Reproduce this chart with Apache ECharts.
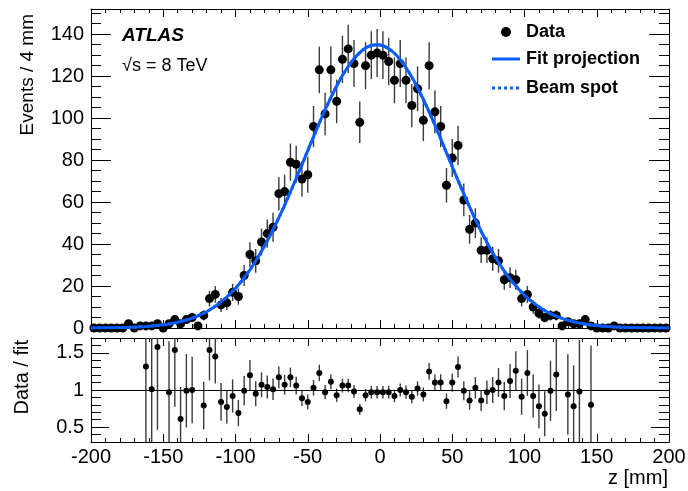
<!DOCTYPE html>
<html><head><meta charset="utf-8">
<script src="https://cdn.jsdelivr.net/npm/echarts@6/dist/echarts.min.js"></script>
<style>html,body{margin:0;padding:0;background:#fff}#c{width:688px;height:491px}</style>
</head><body><div id="c"></div>
<script>
// ---- data ----
const zMin = -200, zMax = 200, binWidth = 4; // mm
// Events per 4 mm bin, bins from -200 to 200
const counts = [
  0,0,0,0,0,0,2,0,1,1,
  1,2,0,2,4,2,4,5,1,6,
  14,16,11,12,17,15,25,35,32,41,
  45,48,64,65,79,78,71,73,96,123,
  102,123,108,128,133,126,98,125,130,131,
  130,127,118,126,118,106,114,99,125,103,
  96,68,81,87,61,47,50,37,37,33,
  32,23,24,23,14,16,10,7,5,6,
  6,1,3,2,2,4,1,0,0,0,
  1,0,0,0,0,0,0,0,0,0
];
// fit projection read at bin centres
const fitVals = [
  0.05,0.07,0.10,0.13,0.18,0.24,0.31,0.41,0.55,0.71,
  0.92,1.19,1.52,1.93,2.44,3.06,3.81,4.71,5.80,7.08,
  8.60,10.36,12.42,14.78,17.47,20.52,23.94,27.75,31.94,36.55,
  41.54,46.87,52.58,58.58,64.86,71.32,77.88,84.55,91.13,97.63,
  103.9,109.8,115.3,120.3,124.6,128.3,131.2,133.4,134.6,135.0,
  134.5,133.1,130.9,127.8,124.0,119.6,114.5,108.9,103.0,96.7,
  90.2,83.5,76.9,70.3,63.9,57.7,51.7,46.1,40.8,35.8,
  31.3,27.1,23.4,20.0,17.0,14.4,12.1,10.1,8.35,6.88,
  5.62,4.57,3.68,2.95,2.35,1.86,1.46,1.14,0.89,0.68,
  0.52,0.40,0.30,0.22,0.16,0.12,0.09,0.06,0.04,0.03
];
const fitEdges = [0.04, 0.03]; // fit at z=-200 and z=200
// Data / fit ratio (null = outside the shown range)
const ratio = [
  null,null,null,null,null,null,null,null,null,1.315,
  1.01,1.58,null,0.97,1.54,0.61,0.99,1.00,null,0.79,
  1.54,1.45,0.84,0.77,0.92,0.69,0.99,1.20,0.95,1.07,
  1.04,1.01,1.17,1.07,1.17,1.06,0.89,0.84,1.03,1.23,
  0.97,1.11,0.93,1.06,1.06,0.98,0.74,0.93,0.97,0.97,
  0.97,0.97,0.92,1.00,0.97,0.91,1.02,0.94,1.25,1.10,
  1.10,0.85,1.10,1.31,0.99,0.86,1.03,0.86,0.97,1.00,
  1.10,0.92,1.12,1.26,0.91,1.23,0.92,0.78,0.68,0.99,
  1.21,null,0.94,0.78,0.98,null,0.80,null,null,null,
  null,null,null,null,null,null,null,null,null,null
];
const legendNames = ['Data', 'Fit projection', 'Beam spot'];
const topYMax = 152;
const ratioMin = 0.3, ratioMax = 1.7;
const ratioMajor = [0.5, 1, 1.5];

// ---- build ----
const FONT = 'Liberation Sans, Arial, Helvetica, sans-serif';
const BLUE = '#0a5cff';
const ERR = '#3a3a3a';
const binCenters = counts.map((_, i) => zMin + binWidth / 2 + i * binWidth);

const dataPts = binCenters.map((z, i) => [z, counts[i]]);
const dataErr = binCenters.map((z, i) => [z, counts[i], Math.sqrt(counts[i])]).filter(d => d[1] > 0);
const fitLine = [[zMin, fitEdges[0]]].concat(binCenters.map((z, i) => [z, fitVals[i]]), [[zMax, fitEdges[1]]]);
const ratioPts = [], ratioErr = [];
binCenters.forEach((z, i) => {
  if (ratio[i] !== null) {
    ratioPts.push([z, ratio[i]]);
    ratioErr.push([z, ratio[i], ratio[i] / Math.sqrt(counts[i])]);
  }
});

function errRender(lo, hi) {
  return function (params, api) {
    const x = api.value(0), y = api.value(1), e = api.value(2);
    const a = api.coord([x, Math.max(y - e, lo)]);
    const b = api.coord([x, Math.min(y + e, hi)]);
    return { type: 'line', shape: { x1: a[0], y1: a[1], x2: b[0], y2: b[1] },
      style: { stroke: ERR, lineWidth: 1.4 } };
  };
}

const line = { show: true, onZero: false, lineStyle: { color: '#000', width: 1 } };
function xAx(grid, pos, labels) {
  return { type: 'value', gridIndex: grid, position: pos, min: zMin, max: zMax, interval: 50,
    axisLine: line, splitLine: { show: false },
    axisTick: { show: true, inside: true, length: 8, lineStyle: { color: '#000' } },
    minorTick: { show: true, splitNumber: 5, length: 4, lineStyle: { color: '#000' } },
    axisLabel: { show: labels, color: '#000', fontFamily: FONT, fontSize: 20, margin: 5 } };
}
const legTxt = { fontFamily: FONT, fontSize: 18, fontWeight: 'bold', fill: '#000', align: 'left', verticalAlign: 'middle' };
const chart = echarts.init(document.getElementById('c'), null, { renderer: 'canvas' });
chart.setOption({
  animation: false,
  backgroundColor: '#fff',
  grid: [
    { left: 91, right: 19, top: 9, height: 319, outerBoundsMode: 'none' },
    { left: 91, right: 19, top: 338, height: 104, outerBoundsMode: 'none' }
  ],
  xAxis: [xAx(0, 'bottom', false), xAx(0, 'top', false), xAx(1, 'bottom', true), xAx(1, 'top', false)],
  yAxis: [
    { type: 'value', gridIndex: 0, position: 'left', min: 0, max: topYMax, interval: 20,
      axisLine: line, splitLine: { show: false },
      axisTick: { show: true, inside: true, length: 20, lineStyle: { color: '#000' } },
      minorTick: { show: true, splitNumber: 4, length: 10, lineStyle: { color: '#000' } },
      axisLabel: { color: '#000', fontFamily: FONT, fontSize: 20, margin: 7, showMaxLabel: false } },
    { type: 'value', gridIndex: 0, position: 'right', min: 0, max: topYMax, interval: 20,
      axisLine: line, splitLine: { show: false },
      axisTick: { show: true, inside: true, length: 20, lineStyle: { color: '#000' } },
      minorTick: { show: true, splitNumber: 4, length: 10, lineStyle: { color: '#000' } },
      axisLabel: { show: false } },
    { type: 'value', gridIndex: 1, position: 'left', min: ratioMin, max: ratioMax,
      axisLine: line, splitLine: { show: false },
      axisTick: { show: true, inside: true, length: 18, customValues: ratioMajor, lineStyle: { color: '#000' } },
      axisLabel: { color: '#000', fontFamily: FONT, fontSize: 20, margin: 7, customValues: ratioMajor } },
    { type: 'value', gridIndex: 1, position: 'left', min: ratioMin, max: ratioMax, interval: 0.1,
      axisLine: line, splitLine: { show: false },
      axisTick: { show: true, inside: true, length: 10, lineStyle: { color: '#000' } },
      axisLabel: { show: false } },
    { type: 'value', gridIndex: 1, position: 'right', min: ratioMin, max: ratioMax,
      axisLine: line, splitLine: { show: false },
      axisTick: { show: true, inside: true, length: 18, customValues: ratioMajor, lineStyle: { color: '#000' } },
      axisLabel: { show: false } },
    { type: 'value', gridIndex: 1, position: 'right', min: ratioMin, max: ratioMax, interval: 0.1,
      axisLine: line, splitLine: { show: false },
      axisTick: { show: true, inside: true, length: 10, lineStyle: { color: '#000' } },
      axisLabel: { show: false } }
  ],
  graphic: [
    { type: 'text', x: 122, y: 36, style: { text: 'ATLAS', fontFamily: FONT, fontSize: 19, fontWeight: 'bold', fontStyle: 'italic', fill: '#000', align: 'left', verticalAlign: 'middle' } },
    { type: 'text', x: 122, y: 66, style: { text: '√s = 8 TeV', fontFamily: FONT, fontSize: 18, fill: '#000', align: 'left', verticalAlign: 'middle' } },
    { type: 'text', x: 28, y: 14, rotation: Math.PI / 2, style: { text: 'Events / 4 mm', fontFamily: FONT, fontSize: 19, fill: '#000', align: 'right', verticalAlign: 'middle' } },
    { type: 'text', x: 22, y: 340, rotation: Math.PI / 2, style: { text: 'Data / fit', fontFamily: FONT, fontSize: 20, fill: '#000', align: 'right', verticalAlign: 'middle' } },
    { type: 'text', x: 668, y: 478, style: { text: 'z [mm]', fontFamily: FONT, fontSize: 20, fill: '#000', align: 'right', verticalAlign: 'middle' } },
    // legend
    { type: 'circle', shape: { cx: 506, cy: 32, r: 5 }, style: { fill: '#000' } },
    { type: 'text', x: 526, y: 32, style: Object.assign({ text: legendNames[0] }, legTxt) },
    { type: 'line', shape: { x1: 492, y1: 59, x2: 520, y2: 59 }, style: { stroke: BLUE, lineWidth: 3 } },
    { type: 'text', x: 526, y: 59, style: Object.assign({ text: legendNames[1] }, legTxt) },
    { type: 'line', shape: { x1: 492, y1: 88, x2: 520, y2: 88 }, style: { stroke: BLUE, lineWidth: 3, lineDash: [3, 3] } },
    { type: 'text', x: 526, y: 88, style: Object.assign({ text: legendNames[2] }, legTxt) }
  ],
  series: [
    { type: 'custom', name: 'errTop', xAxisIndex: 0, yAxisIndex: 0, data: dataErr,
      renderItem: errRender(0, topYMax), z: 2, silent: true },
    { type: 'scatter', name: legendNames[0], xAxisIndex: 0, yAxisIndex: 0, data: dataPts,
      symbol: 'circle', symbolSize: 9, itemStyle: { color: '#000', opacity: 1 }, z: 3, silent: true },
    { type: 'line', name: legendNames[1], xAxisIndex: 0, yAxisIndex: 0, data: fitLine,
      symbol: 'none', smooth: 0.3, lineStyle: { color: BLUE, width: 3 }, itemStyle: { color: BLUE }, z: 4, silent: true },
    { type: 'line', name: legendNames[2], xAxisIndex: 0, yAxisIndex: 0, data: fitLine,
      symbol: 'none', smooth: 0.3, lineStyle: { color: BLUE, width: 3, type: [3, 3] }, itemStyle: { color: BLUE }, z: 5, silent: true },
    { type: 'custom', name: 'errRatio', xAxisIndex: 2, yAxisIndex: 2, data: ratioErr,
      renderItem: errRender(ratioMin, ratioMax), z: 2, silent: true },
    { type: 'scatter', name: 'ratio', xAxisIndex: 2, yAxisIndex: 2, data: ratioPts,
      symbol: 'circle', symbolSize: 6, itemStyle: { color: '#000', opacity: 1 }, z: 3, silent: true,
      markLine: { silent: true, symbol: 'none', label: { show: false },
        lineStyle: { color: '#000', width: 1, type: 'solid' }, data: [{ yAxis: 1 }] } }
  ]
});
</script></body></html>
